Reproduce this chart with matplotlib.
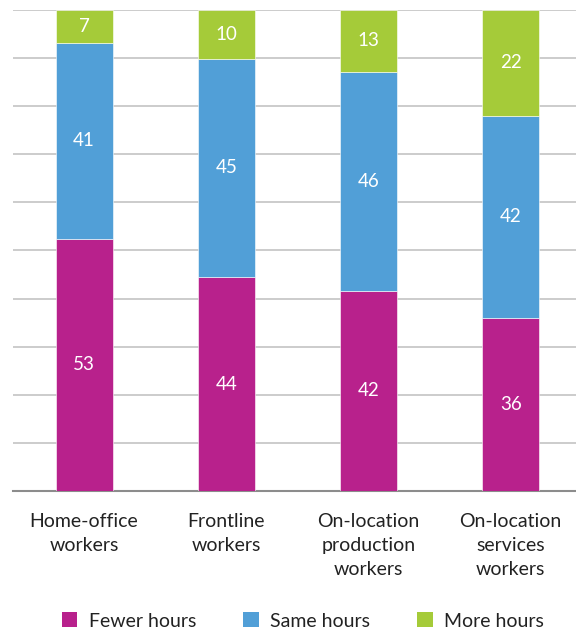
import matplotlib.pyplot as plt
from matplotlib.patches import Patch
import numpy as np

plt.rcParams['font.family'] = ['Lato', 'DejaVu Sans']

# data as printed on the chart (percent, rounded)
groups = ['Home-office\nworkers', 'Frontline\nworkers',
          'On-location\nproduction\nworkers', 'On-location\nservices\nworkers']
fewer = [53, 44, 42, 36]
same = [41, 45, 46, 42]
more = [7, 10, 13, 22]
series_names = ['Fewer hours', 'Same hours', 'More hours']
colors = ['#B8218C', '#519FD7', '#A5CB39']

fig = plt.figure(figsize=(5.76, 6.33), dpi=100)
ax = fig.add_axes([13/576, 1-491/633, (576-13)/576, (491-10)/633])

x = np.arange(len(groups))
raw = np.array([fewer, same, more], dtype=float)
# bars are 100% stacked, so scale each column to 100
share = raw / raw.sum(axis=0) * 100

bottom = np.zeros(len(groups))
for i in range(3):
    ax.bar(x, share[i], bottom=bottom, width=0.4, color=colors[i],
           edgecolor='white', linewidth=0.4, zorder=3)
    for j in range(len(groups)):
        ax.text(x[j], bottom[j] + share[i][j]/2, str(int(raw[i][j])),
                ha='center', va='center', color='white', fontsize=13.5, zorder=4)
    bottom += share[i]

ax.set_xlim(-0.5, 3.46)
ax.set_ylim(0, 100)
ax.set_yticks(np.arange(0, 101, 10))
ax.yaxis.grid(True, color='#c8c8c8', linewidth=1.3, zorder=0)
ax.set_yticklabels([])
ax.tick_params(axis='both', length=0)
for s in ['top', 'right', 'left']:
    ax.spines[s].set_visible(False)
ax.spines['bottom'].set_color('#8c8c8c')
ax.spines['bottom'].set_linewidth(1.5)
ax.set_xticks(x)
ax.set_xticklabels(groups, fontsize=14, color='#222222', linespacing=1.5)
ax.tick_params(axis='x', pad=16)

handles = [Patch(facecolor=c, label=n) for c, n in zip(colors, series_names)]
fig.legend(handles=handles, loc='center', bbox_to_anchor=(0.526, 1-621/633),
           ncol=3, frameon=False, fontsize=14, handlelength=0.8, handleheight=0.8,
           handletextpad=0.6, columnspacing=2.4, labelcolor='#222222')

fig.savefig('out.png', dpi=100)
